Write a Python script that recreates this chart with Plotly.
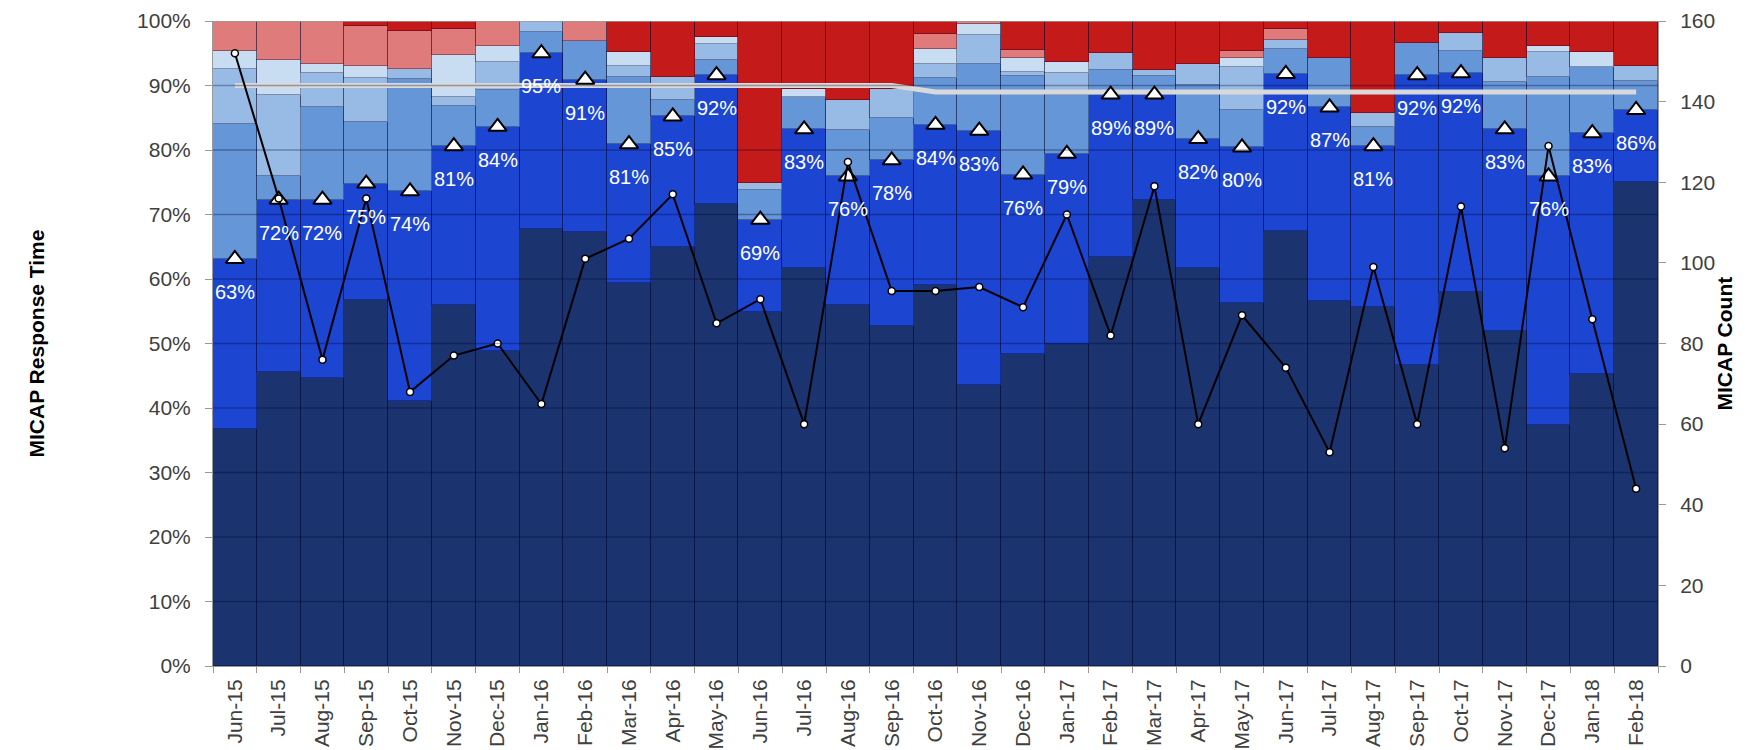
import plotly.graph_objects as go

months = ["Jun-15", "Jul-15", "Aug-15", "Sep-15", "Oct-15", "Nov-15", "Dec-15", "Jan-16",
          "Feb-16", "Mar-16", "Apr-16", "May-16", "Jun-16", "Jul-16", "Aug-16", "Sep-16",
          "Oct-16", "Nov-16", "Dec-16", "Jan-17", "Feb-17", "Mar-17", "Apr-17", "May-17",
          "Jun-17", "Jul-17", "Aug-17", "Sep-17", "Oct-17", "Nov-17", "Dec-17", "Jan-18", "Feb-18"]

# stacked response-time shares (percent of MICAPs), bottom to top
band_navy = [36.8, 45.6, 44.7, 56.8, 41.1, 55.9, 48.8, 67.7, 67.3, 59.4, 64.9, 71.7, 54.9, 61.7, 55.9, 52.7,
             59.1, 43.5, 48.3, 49.9, 63.4, 72.2, 61.7, 56.3, 67.5, 56.6, 55.6, 46.6, 58.0, 51.9, 37.3, 45.3, 75.0]
band_blue = [26.3, 26.7, 27.6, 18.0, 32.5, 24.7, 34.8, 27.3, 23.6, 21.5, 20.3, 19.9, 14.3, 21.5, 20.0, 25.7,
             24.8, 39.5, 27.9, 29.5, 25.2, 16.4, 20.0, 24.1, 24.3, 30.0, 25.0, 45.0, 33.9, 31.3, 38.6, 37.3, 11.2]
band_mid = [21.0, 3.6, 14.3, 9.6, 17.4, 6.3, 5.7, 3.3, 6.0, 10.4, 2.6, 2.3, 4.6, 5.0, 7.2, 6.5,
            7.2, 10.4, 15.3, 9.1, 3.8, 2.9, 8.4, 5.8, 3.9, 7.7, 3.0, 5.0, 3.5, 7.4, 15.4, 10.3, 4.5]
band_light = [8.5, 12.7, 5.4, 6.7, 1.6, 1.3, 4.4, 1.7, 0.0, 1.8, 3.5, 2.5, 1.1, 0.0, 4.7, 4.6,
              2.3, 4.4, 0.6, 3.5, 2.7, 0.9, 3.2, 6.7, 1.4, 0.0, 2.2, 0.0, 2.7, 3.7, 3.9, 0.0, 2.4]
band_pale = [2.8, 5.3, 1.4, 1.9, 0.0, 6.5, 2.5, 0.0, 0.0, 2.1, 0.0, 1.1, 0.0, 1.2, 0.0, 0.0,
             2.2, 1.8, 2.2, 1.7, 0.0, 0.0, 0.0, 1.3, 0.0, 0.0, 0.0, 0.0, 0.0, 0.0, 0.9, 2.3, 0.0]
band_pink = [4.6, 6.1, 6.6, 6.2, 5.9, 4.0, 3.8, 0.0, 3.1, 0.0, 0.0, 0.0, 0.0, 0.0, 0.0, 0.0,
             2.4, 0.4, 1.2, 0.0, 0.0, 0.0, 0.0, 1.2, 1.6, 0.0, 0.0, 0.0, 0.0, 0.0, 0.0, 0.0, 0.0]
band_red = [0.0, 0.0, 0.0, 0.8, 1.5, 1.3, 0.0, 0.0, 0.0, 4.8, 8.7, 2.5, 25.1, 10.6, 12.2, 10.5,
            2.0, 0.0, 4.5, 6.3, 4.9, 7.6, 6.7, 4.6, 1.3, 5.7, 14.2, 3.4, 1.9, 5.7, 3.9, 4.8, 6.9]

# MICAP count (right axis)
micap_count = [152, 116, 76, 116, 68, 77, 80, 65, 101, 106, 117, 85, 91, 60, 125, 93,
               93, 94, 89, 112, 82, 119, 60, 87, 74, 53, 99, 60, 114, 54, 129, 86, 44]

# goal line (percent)
goal = [90, 90, 90, 90, 90, 90, 90, 90, 90, 90, 90, 90, 90, 90, 90, 90,
        89, 89, 89, 89, 89, 89, 89, 89, 89, 89, 89, 89, 89, 89, 89, 89, 89]

bands = [band_navy, band_blue, band_mid, band_light, band_pale, band_pink, band_red]
colors = ["#1b3470", "#1c46d2", "#6596d8", "#98bbe6", "#c8dcf2", "#e07b7b", "#c41a1a"]

FONT = "Liberation Sans, Arial, sans-serif"

fig = go.Figure()
for vals, col in zip(bands, colors):
    fig.add_trace(go.Bar(x=months, y=vals, marker=dict(color=col, line=dict(color="rgba(0,0,40,0.35)", width=1)),
                         showlegend=False, hoverinfo="skip"))

resp = [round(a + b, 1) for a, b in zip(band_navy, band_blue)]

fig.add_trace(go.Scatter(x=months, y=goal, mode="lines", line=dict(color="#d9d9d9", width=5),
                         showlegend=False, hoverinfo="skip"))
fig.add_trace(go.Scatter(x=months, y=resp, mode="markers",
                         marker=dict(symbol="triangle-up", size=16, color="white",
                                     line=dict(color="black", width=2)),
                         showlegend=False))
fig.add_trace(go.Scatter(x=months, y=micap_count, yaxis="y2", mode="lines+markers",
                         line=dict(color="black", width=2),
                         marker=dict(size=7, color="white", line=dict(color="black", width=1.5)),
                         showlegend=False))

shapes = []
for v in range(10, 101, 10):
    shapes.append(dict(type="line", xref="paper", x0=0, x1=1, yref="y", y0=v, y1=v, layer="above",
                       line=dict(color="#9a9a9a" if v == 100 else "rgba(0,0,40,0.32)", width=1.5)))

annotations = []
for m, r in zip(months, resp):
    annotations.append(dict(x=m, y=r, xref="x", yref="y", text=f"{round(r)}%", showarrow=False,
                            yshift=-33, font=dict(color="white", size=20, family=FONT)))
annotations.append(dict(x=0, xref="paper", xshift=-177, xanchor="center", y=0.5, yref="paper",
                        yanchor="middle", text="<b>MICAP Response Time</b>",
                        textangle=-90, showarrow=False, font=dict(size=21, color="black", family=FONT)))
annotations.append(dict(x=1, xref="paper", xshift=66, xanchor="center", y=0.5, yref="paper",
                        yanchor="middle", text="<b>MICAP Count</b>",
                        textangle=-90, showarrow=False, font=dict(size=21, color="black", family=FONT)))

fig.update_layout(
    width=1737, height=742,
    margin=dict(l=205, r=87, t=13, b=84),
    paper_bgcolor="white", plot_bgcolor="white",
    barmode="stack", bargap=0,
    font=dict(family=FONT, size=21, color="#404040"),
    shapes=shapes, annotations=annotations,
    xaxis=dict(type="category", range=[-0.5, len(months) - 0.5], tickangle=-90, ticks="outside",
               tickson="boundaries", ticklen=6, ticklabelstandoff=4,
               tickcolor="#999", showline=True, linecolor="#999", automargin=False,
               tickfont=dict(size=21, color="#404040")),
    yaxis=dict(range=[0, 100], dtick=10, ticksuffix="%", ticks="outside", ticklen=7, tickcolor="#999",
               ticklabelstandoff=10,
               showline=True, linecolor="#999", showgrid=False, zeroline=False, automargin=False,
               tickfont=dict(size=21, color="#404040")),
    yaxis2=dict(range=[0, 160], dtick=20, overlaying="y", side="right", ticks="outside", ticklen=7,
                ticklabelstandoff=10,
                tickcolor="#999", showline=True, linecolor="#999", showgrid=False, zeroline=False,
                automargin=False, tickfont=dict(size=21, color="#404040")),
)

fig.write_html("out.html")
